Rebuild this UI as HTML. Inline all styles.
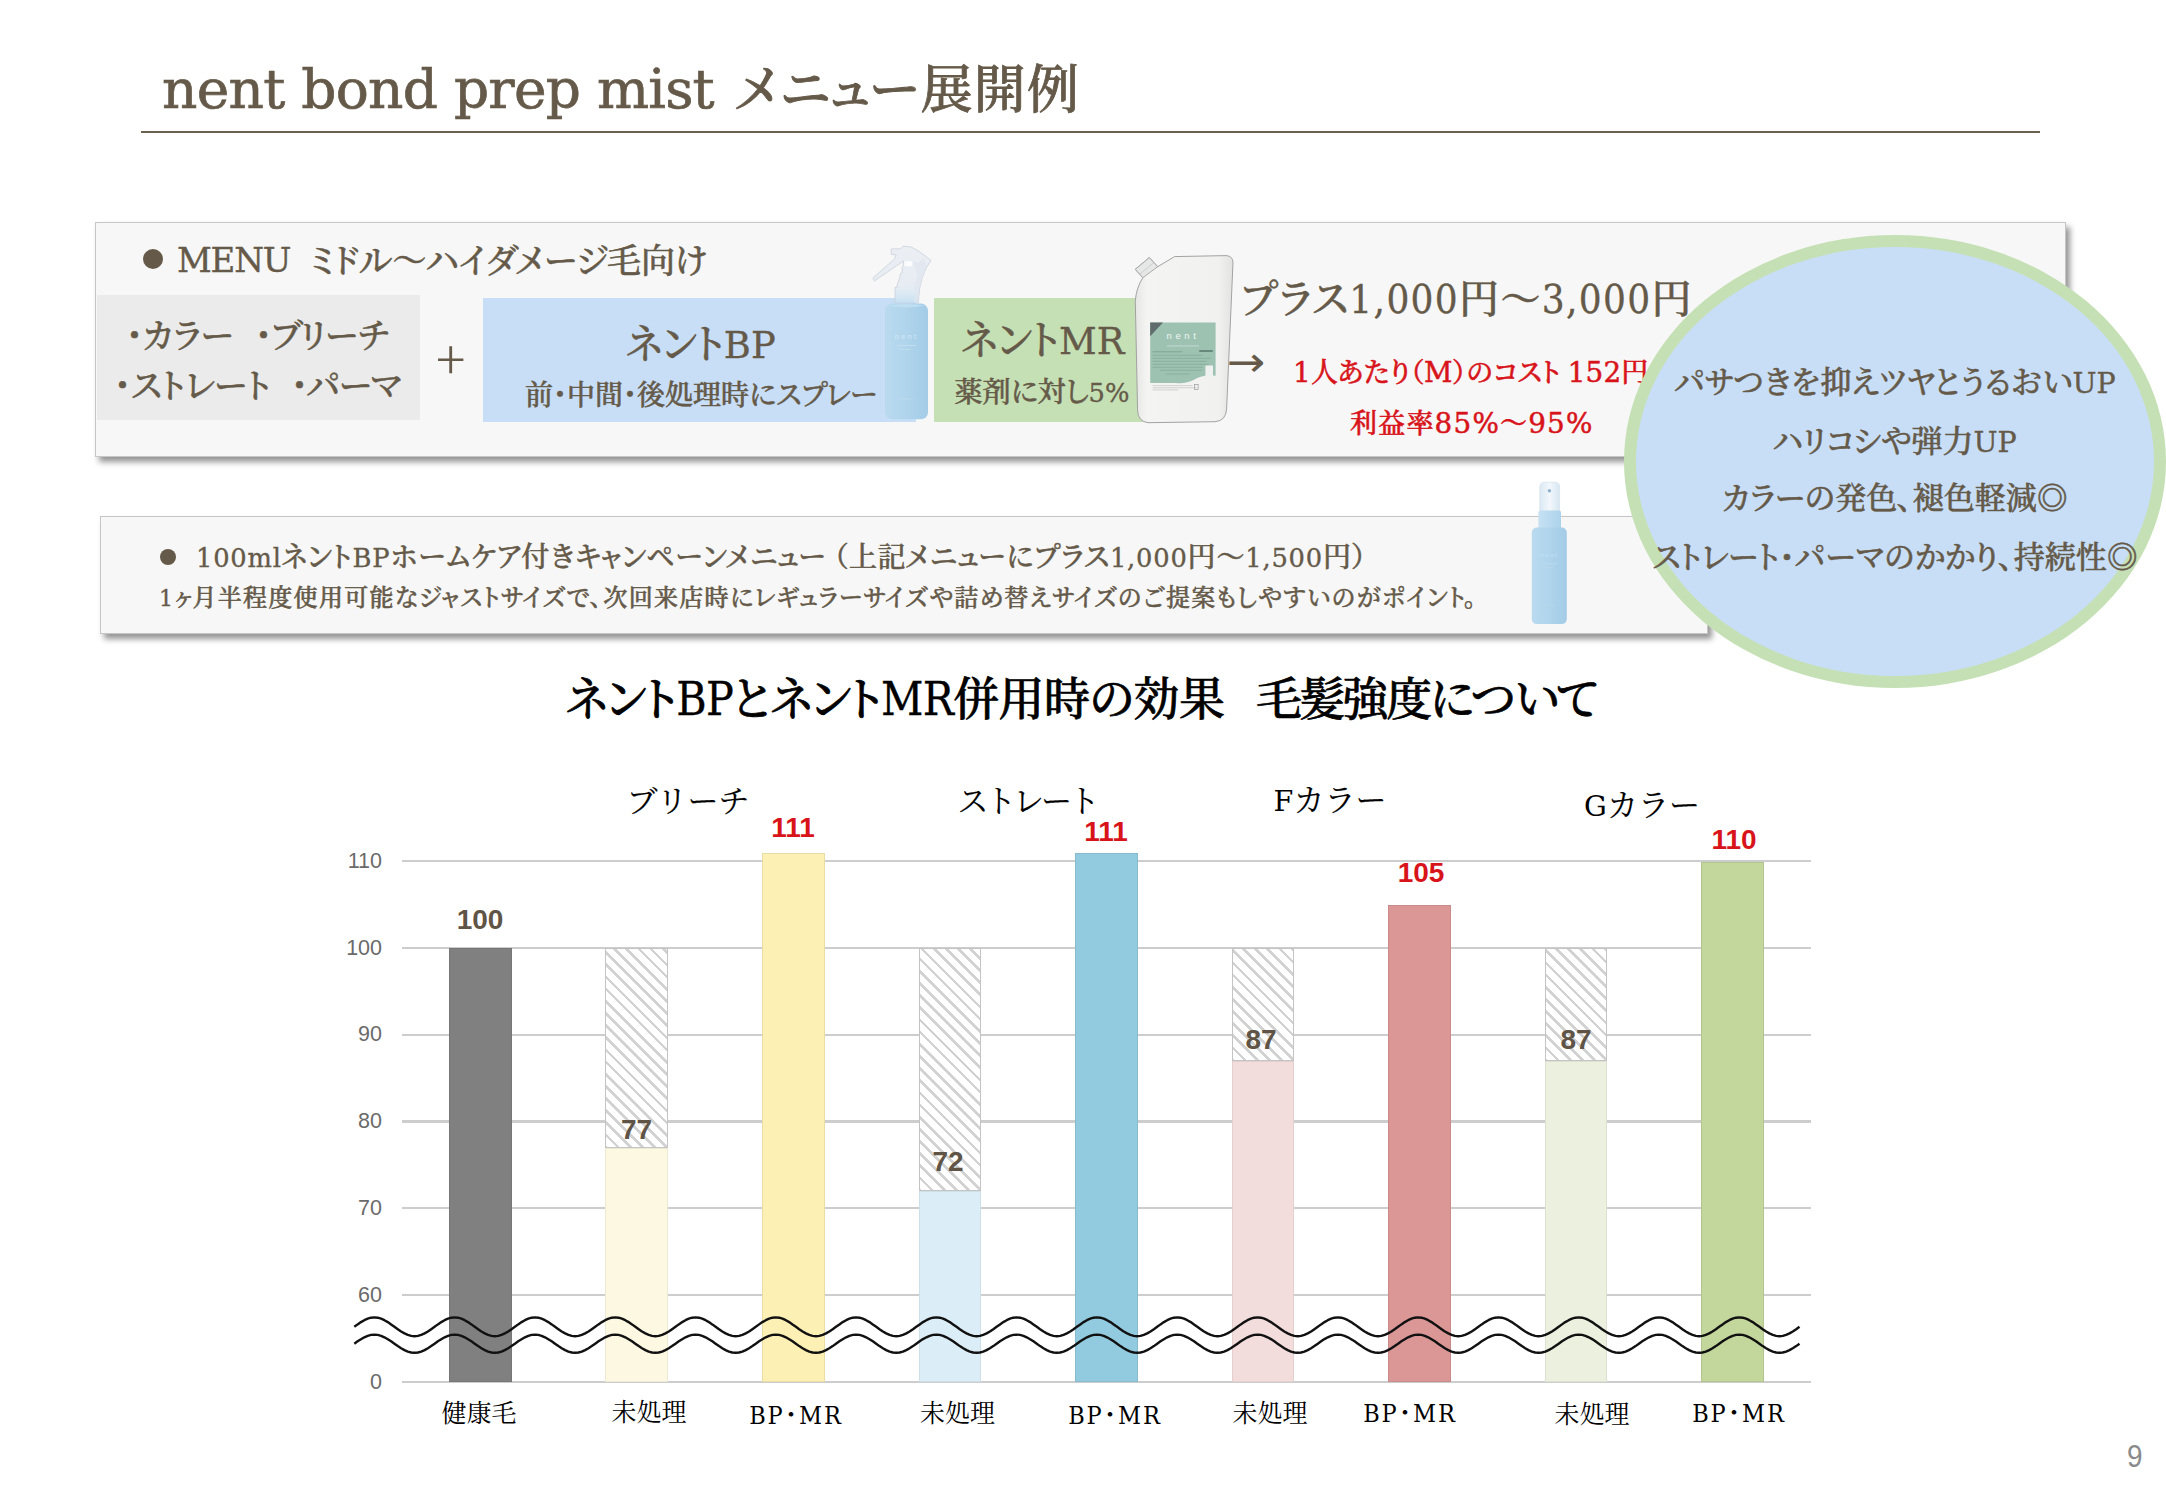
<!DOCTYPE html>
<html lang="ja">
<head>
<meta charset="utf-8">
<title>nent bond prep mist メニュー展開例</title>
<style>
html,body{margin:0;padding:0;background:#fff;}
body{width:2166px;height:1500px;position:relative;overflow:hidden;
  font-family:"DejaVu Serif","Liberation Serif","Noto Serif CJK JP","Noto Serif CJK SC",serif;color:#655a49;}
.t{position:absolute;white-space:nowrap;line-height:1;margin:0;font-weight:500;-webkit-text-stroke:.55px currentColor;font-feature-settings:"palt";}
.jp{font-family:"Noto Serif CJK JP","Noto Serif CJK SC","Liberation Serif",serif;}
.box{position:absolute;}
.card{position:absolute;background:#f7f7f7;border:1px solid #c6c6c6;box-sizing:border-box;box-shadow:4px 5px 6px rgba(0,0,0,.42);}
.red{color:#d8141a;}
.blk{color:#000;}
.sans{font-family:"Liberation Sans","Noto Sans CJK JP",sans-serif;font-feature-settings:normal;-webkit-text-stroke:0;}
.red .l{font-weight:400;font-size:1.03em;-webkit-text-stroke:.5px currentColor;}
.lc{font-family:"DejaVu Serif Condensed","DejaVu Serif",serif;font-stretch:condensed;font-size:1em;font-feature-settings:normal;font-weight:400;-webkit-text-stroke:.3px currentColor;}
.c{transform:translateX(-50%);}
.l{font-family:"DejaVu Serif","Liberation Serif",serif;font-size:.92em;font-feature-settings:normal;font-weight:400;-webkit-text-stroke:.35px currentColor;}

.gl{left:402px;width:1409px;height:2.4px;background:#cdcdcd;}
.yl{left:300px;width:82px;text-align:right;font-size:21.5px;color:#6a6a6a;font-weight:400;}
.hatch{background:repeating-linear-gradient(45deg,#d2d2d2 0,#d2d2d2 2.6px,#fff 2.6px,#fff 8.6px);box-shadow:inset 0 0 0 1px #c4c4c4;}
.vl{font-size:28px;font-weight:700;}
.hd{font-size:31px;font-weight:400;font-feature-settings:normal;-webkit-text-stroke:.15px #000;}
.hd .l{-webkit-text-stroke:0;}
.xl{font-size:25px;font-weight:400;-webkit-text-stroke:0;}
.xl .l{font-family:"DejaVu Serif Condensed","DejaVu Serif",serif;font-stretch:condensed;font-size:1em;-webkit-text-stroke:0;}
</style>
</head>
<body>

<!-- ===== Title ===== -->
<div class="t" id="ttl1" style="left:162px;top:61.5px;font-size:55px;letter-spacing:-.75px;font-weight:400;-webkit-text-stroke:.7px #655a49;">nent bond prep mist</div>
<div class="t jp" id="ttl2" style="left:736.5px;top:60px;font-size:52px;font-weight:500;letter-spacing:1.25px;-webkit-text-stroke:.8px #655a49;">メニュー展開例</div>
<div class="box" style="left:141px;top:131px;width:1899px;height:2px;background:#6b5f4e;"></div>

<!-- ===== Card 1 ===== -->
<div class="card" style="left:95px;top:222px;width:1971px;height:235px;"></div>
<div class="box" style="left:143px;top:249px;width:20px;height:20px;border-radius:50%;background:#655a49;"></div>
<div class="t" id="menu" style="left:177px;top:243px;font-size:34px;letter-spacing:-1.2px;font-weight:400;-webkit-text-stroke:.4px #655a49;">MENU</div>
<div class="t jp" id="menu2" style="left:310px;top:242px;font-size:34px;">ミドル～ハイダメージ毛向け</div>

<div class="box" style="left:97px;top:295px;width:323px;height:125px;background:#ebebeb;"></div>
<div class="t jp" id="g1" style="left:126px;top:317px;font-size:34px;">・カラー</div>
<div class="t jp" id="g1b" style="left:255px;top:317px;font-size:34px;letter-spacing:-.9px;">・ブリーチ</div>
<div class="t jp" id="g2" style="left:114px;top:367px;font-size:34px;">・ストレート</div>
<div class="t jp" id="g2b" style="left:291px;top:367px;font-size:34px;letter-spacing:-1.4px;">・パーマ</div>

<div class="t" id="plusS" style="left:436px;top:329px;font-size:55px;font-weight:300;font-family:'Noto Sans CJK JP','Noto Sans CJK SC',sans-serif;-webkit-text-stroke:0;font-feature-settings:normal;">+</div>

<div class="box" style="left:483px;top:298px;width:433px;height:124px;background:#c8def7;"></div>
<div class="t jp c" id="bp1" style="left:701px;top:321px;font-size:40px;">ネント<span class="l">BP</span></div>
<div class="t jp c" id="bp2" style="left:701px;top:379px;font-size:28px;">前・中間・後処理時にスプレー</div>

<div class="box" style="left:934px;top:298px;width:217px;height:124px;background:#c5e0b4;"></div>
<div class="t jp c" id="mr1" style="left:1043px;top:317px;font-size:40px;">ネント<span class="l">MR</span></div>
<div class="t jp c" id="mr2" style="left:1042px;top:376px;font-size:28px;">薬剤に対し<span class="l">5%</span></div>

<div class="t jp" id="plus" style="left:1240.5px;top:276px;font-size:40px;letter-spacing:1.35px;">プラス<span class="lc">1,000</span>円～<span class="lc">3,000</span>円</div>
<div class="t" id="arrow" style="z-index:3;left:1227.3px;top:341.5px;transform:scaleX(1.12);transform-origin:0 0;font-size:41px;font-weight:400;font-family:'DejaVu Sans',sans-serif;-webkit-text-stroke:0;font-feature-settings:normal;">→</div>
<div class="t jp red" id="r1" style="left:1293px;top:357px;font-size:27px;font-weight:500;letter-spacing:.2px;"><span class="l">1</span>人あたり（<span class="l">M</span>）のコスト <span class="l">152</span>円</div>
<div class="t jp red" id="r2" style="left:1350px;top:407.5px;font-size:27px;font-weight:500;letter-spacing:1.2px;">利益率<span class="l">85%</span>～<span class="l">95%</span></div>

<!-- ===== Card 2 ===== -->
<div class="card" style="left:100px;top:516px;width:1608px;height:118px;"></div>
<div class="box" style="left:160px;top:549px;width:16px;height:16px;border-radius:50%;background:#655a49;"></div>
<div class="t jp" id="c21" style="left:196px;top:541px;font-size:28px;letter-spacing:.8px;"><span class="l">100ml</span>ネント<span class="l">BP</span>ホームケア付きキャンペーンメニュー （上記メニューにプラス<span class="l">1,000</span>円～<span class="l">1,500</span>円）</div>
<div class="t jp" id="c22" style="left:159px;top:584px;font-size:24px;letter-spacing:1.3px;"><span class="l">1</span>ヶ月半程度使用可能なジャストサイズで、次回来店時にレギュラーサイズや詰め替えサイズのご提案もしやすいのがポイント。</div>

<!--PROD-START-->
<svg class="box" id="products" style="left:0;top:0;" width="2166" height="1500" viewBox="0 0 2166 1500">
<defs>
<linearGradient id="gb" x1="0" x2="1" y1="0" y2="0"><stop offset="0" stop-color="#badaef"/><stop offset=".45" stop-color="#b0d5ec"/><stop offset="1" stop-color="#a4cce7"/></linearGradient>
<linearGradient id="gn" x1="0" x2="1" y1="0" y2="0"><stop offset="0" stop-color="#c6e1f3"/><stop offset="1" stop-color="#add3ec"/></linearGradient>
<linearGradient id="gp" x1="0" x2="1" y1="0" y2="0"><stop offset="0" stop-color="#e6e6e5"/><stop offset=".12" stop-color="#f4f4f3"/><stop offset=".85" stop-color="#f1f1f0"/><stop offset="1" stop-color="#e2e2e1"/></linearGradient>
<linearGradient id="gc" x1="0" x2="1" y1="0" y2="0"><stop offset="0" stop-color="#dbe9f4"/><stop offset=".5" stop-color="#f2f7fb"/><stop offset="1" stop-color="#d6e6f2"/></linearGradient>
<linearGradient id="gt" x1="0" x2="0" y1="0" y2="1"><stop offset="0" stop-color="#ebeff4"/><stop offset=".7" stop-color="#e7ecf3"/><stop offset=".86" stop-color="#d9e8f3"/><stop offset="1" stop-color="#c6e1f3"/></linearGradient>
</defs>
<!-- spray bottle -->
<g>
<path d="M891.2,248.9 L900.5,248.9 L902.9,246.2 L911.1,247 L917.8,250.6 L925,255.8 L931,260.4 L926.9,266.9 L922.6,276.5 L919.7,288 L918.3,303 L895,303 L895,287.3 L897.2,287.3 L897.2,284.6 L899.6,277.9 L900.5,273.6 L902.2,273.1 L902.2,266.9 L903.4,265 L903.4,261.1 L874.6,280.8 L872.9,278.4 L873.2,277.7 L894.3,259.2 L896.2,254.9 L891.2,254.4 Z" fill="url(#gt)" stroke="#c9d1db" stroke-width=".8" stroke-linejoin="round"/>
<path d="M904.4,261.2 H912.3 V266.2 H904.4 Z" fill="#fbfcfd"/>
<path d="M912.3,261.5 L918,262.5 L924.5,258 L926.9,266.9 L922.6,276.5 L919.7,288 L918.3,303 L914,303 L915,286 L917.5,274 Z" fill="#dfe6ee" opacity=".7"/>
<rect x="884.9" y="303.6" width="43.1" height="115.7" rx="7" ry="7" fill="url(#gb)"/>
<path d="M888,305.6 Q906.5,302.6 925,305.6 Q906.5,309.4 888,305.6 Z" fill="#c4e1f3" opacity=".8"/>
<text x="906.5" y="338.5" text-anchor="middle" font-family="'Liberation Sans',sans-serif" font-size="7.5" letter-spacing="2.2" fill="#d3e8f6">nent</text>
<rect x="897" y="345" width="19" height=".9" fill="#c3def0"/>
<rect x="899" y="349" width="12" height=".8" fill="#c3def0"/>
<rect x="900" y="398.5" width="13" height=".9" fill="#bcd9ee"/>
</g>
<!-- refill pouch -->
<g>
<path d="M1174.6,256.6 L1226.6,255.6 Q1232.6,256.4 1233,262.1 L1226.6,409 Q1226,420.8 1215,421.7 L1148,422.7 Q1138.2,421.5 1137.6,411 L1135.3,301.1 Q1136.2,288 1142.8,277.7 L1135.3,269.3 L1149.3,257.6 L1157.7,266.7 Z" fill="url(#gp)" stroke="#a3a3a3" stroke-width="1" stroke-linejoin="round"/>
<path d="M1135.3,269.3 L1149.3,257.6 L1157.7,266.7 L1142.8,277.7 Z" fill="#e6e8e8" stroke="#a3a3a3" stroke-width=".9" stroke-linejoin="round"/>
<path d="M1139.6,274.2 L1153.9,262.6" stroke="#c4c4c4" stroke-width=".8" fill="none"/>
<path d="M1150.2,322.6 H1215.6 V375.8 Q1204,373.8 1194,379.8 Q1186,384 1176,383 H1150.2 Z" fill="#9ec2b2"/>
<path d="M1150.2,322.6 H1163 L1150.2,336.3 Z" fill="#5f6c6b"/>
<text x="1183" y="339" text-anchor="middle" font-family="'Liberation Sans',sans-serif" font-size="9.5" letter-spacing="3.6" fill="#eef6f2">nent</text>
<rect x="1167" y="345.5" width="32" height=".9" fill="#c4dcd1"/>
<rect x="1152.5" y="351.3" width="30" height="1" fill="#7ea595"/>
<rect x="1199" y="350" width="14" height="2" rx="1" fill="#66897b"/>
<g fill="#86ad9d"><rect x="1152.5" y="354.8" width="50" height=".9"/><rect x="1152.5" y="357.8" width="58" height=".9"/><rect x="1152.5" y="360.8" width="54" height=".9"/><rect x="1152.5" y="363.8" width="56" height=".9"/><rect x="1152.5" y="366.8" width="50" height=".9"/><rect x="1160" y="369.8" width="42" height=".9"/><rect x="1166" y="373.5" width="24" height=".9"/></g>
<rect x="1205.4" y="365.5" width="7.6" height="12.3" fill="#eef1ef"/>
<g fill="#c9c9c8"><rect x="1152.5" y="385.3" width="40" height=".8"/><rect x="1152.5" y="387.4" width="44" height=".8"/><rect x="1152.5" y="389.5" width="26" height=".8"/></g>
<rect x="1194.5" y="384.6" width="3.6" height="5" fill="none" stroke="#9a9a9a" stroke-width=".7"/>
</g>
<!-- 100ml bottle -->
<g>
<path d="M1539.8,511.5 V487 Q1539.8,482.2 1544.6,482.2 H1554.8 Q1559.6,482.2 1559.6,487 V511.5 Z" fill="url(#gc)" stroke="#cfdde9" stroke-width=".6"/>
<circle cx="1549.4" cy="490.8" r="1.7" fill="#8fb2cf"/>
<rect x="1538.4" y="510.6" width="22.6" height="19" rx="2" fill="url(#gn)"/>
<rect x="1531.8" y="527.5" width="35" height="96.6" rx="5" ry="5" fill="url(#gb)"/>
<text x="1549.4" y="557" text-anchor="middle" font-family="'Liberation Sans',sans-serif" font-size="6.2" letter-spacing="1.6" fill="#c6e0f2">nent</text>
<rect x="1542" y="563.5" width="15" height=".8" fill="#bcd9ee"/>
<rect x="1544" y="567" width="9" height=".7" fill="#bcd9ee"/>
<rect x="1545" y="605" width="9" height=".8" fill="#b8d6ec"/>
</g>
</svg>
<!--PROD-END-->
<!-- ===== Ellipse ===== -->
<div class="box" style="left:1624px;top:235px;width:542px;height:453px;border-radius:50%;background:#c8def7;border:12px solid #c5e0b4;box-sizing:border-box;"></div>
<div class="t jp c" id="e1" style="left:1895px;top:363.5px;font-size:31px;">パサつきを抑えツヤとうるおい<span class="l">UP</span></div>
<div class="t jp c" id="e2" style="left:1895px;top:422.5px;font-size:31px;">ハリコシや弾力<span class="l">UP</span></div>
<div class="t jp c" id="e3" style="left:1895px;top:479.5px;font-size:31px;">カラーの発色、褪色軽減◎</div>
<div class="t jp c" id="e4" style="left:1895px;top:538.5px;font-size:31px;">ストレート・パーマのかかり、持続性◎</div>

<!-- ===== Chart title ===== -->
<div class="t jp blk" id="ct" style="left:566px;top:672px;font-size:46px;font-weight:500;letter-spacing:-.67px;-webkit-text-stroke:.7px #000;">ネント<span class="lc">BP</span>とネント<span class="lc">MR</span>併用時の効果</div>
<div class="t jp blk" id="ct2" style="left:1256px;top:672px;font-size:46px;font-weight:500;letter-spacing:-2.7px;-webkit-text-stroke:.7px #000;">毛髪強度について</div>

<!-- ===== Chart ===== -->
<!--CHART-START-->
<div class="box gl" style="top:859.8px;"></div>
<div class="t sans yl" style="top:850.5px;">110</div>
<div class="box gl" style="top:947.1px;"></div>
<div class="t sans yl" style="top:937.8px;">100</div>
<div class="box gl" style="top:1033.6px;"></div>
<div class="t sans yl" style="top:1024.3px;">90</div>
<div class="box gl" style="top:1120.4px;"></div>
<div class="t sans yl" style="top:1111.1px;">80</div>
<div class="box gl" style="top:1207.1px;"></div>
<div class="t sans yl" style="top:1197.8px;">70</div>
<div class="box gl" style="top:1293.8px;"></div>
<div class="t sans yl" style="top:1284.5px;">60</div>
<div class="box gl" style="top:1380.8px;"></div>
<div class="t sans yl" style="top:1371.5px;">0</div>
<div class="box" style="left:448.8px;top:948.3px;width:62.8px;height:433.7px;background:#808080;box-shadow:inset 0 0 0 1px rgba(0,0,0,.08);"></div>
<div class="box hatch" style="left:605.4px;top:948.3px;width:62.8px;height:199.4px;"></div>
<div class="box" style="left:605.4px;top:1147.7px;width:62.8px;height:234.3px;background:#fdf8e2;box-shadow:inset 0 0 0 1px rgba(0,0,0,.06);"></div>
<div class="box" style="left:761.9px;top:852.9px;width:62.8px;height:529.1px;background:#fdf0b4;box-shadow:inset 0 0 0 1px rgba(0,0,0,.08);"></div>
<div class="box hatch" style="left:918.5px;top:948.3px;width:62.8px;height:242.8px;"></div>
<div class="box" style="left:918.5px;top:1191.1px;width:62.8px;height:190.9px;background:#dbedf6;box-shadow:inset 0 0 0 1px rgba(0,0,0,.06);"></div>
<div class="box" style="left:1075.0px;top:852.9px;width:62.8px;height:529.1px;background:#92cbdf;box-shadow:inset 0 0 0 1px rgba(0,0,0,.08);"></div>
<div class="box hatch" style="left:1231.5px;top:948.3px;width:62.8px;height:112.7px;"></div>
<div class="box" style="left:1231.5px;top:1061.0px;width:62.8px;height:321.0px;background:#f3dcdc;box-shadow:inset 0 0 0 1px rgba(0,0,0,.06);"></div>
<div class="box" style="left:1388.1px;top:904.9px;width:62.8px;height:477.1px;background:#db9696;box-shadow:inset 0 0 0 1px rgba(0,0,0,.08);"></div>
<div class="box hatch" style="left:1544.7px;top:948.3px;width:62.8px;height:112.7px;"></div>
<div class="box" style="left:1544.7px;top:1061.0px;width:62.8px;height:321.0px;background:#ebf0df;box-shadow:inset 0 0 0 1px rgba(0,0,0,.06);"></div>
<div class="box" style="left:1701.2px;top:861.6px;width:62.8px;height:520.4px;background:#c3d69b;box-shadow:inset 0 0 0 1px rgba(0,0,0,.08);"></div>
<div class="t sans c vl" id="v0" style="left:480px;top:906px;color:#5f5445;">100</div>
<div class="t sans c vl" id="v1" style="left:636.5px;top:1116px;color:#5f5445;">77</div>
<div class="t sans c vl" id="v2" style="left:793px;top:814px;color:#d8141a;">111</div>
<div class="t sans c vl" id="v3" style="left:948px;top:1148px;color:#5f5445;">72</div>
<div class="t sans c vl" id="v4" style="left:1106px;top:818px;color:#d8141a;">111</div>
<div class="t sans c vl" id="v5" style="left:1261px;top:1026px;color:#5f5445;">87</div>
<div class="t sans c vl" id="v6" style="left:1421px;top:859px;color:#d8141a;">105</div>
<div class="t sans c vl" id="v7" style="left:1576px;top:1026px;color:#5f5445;">87</div>
<div class="t sans c vl" id="v8" style="left:1734px;top:826px;color:#d8141a;">110</div>
<div class="t jp c blk hd" id="h0" style="left:688px;top:782.5px;letter-spacing:0px;">ブリーチ</div>
<div class="t jp c blk hd" id="h1" style="left:1027px;top:782.5px;letter-spacing:-3.2px;">ストレート</div>
<div class="t jp c blk hd" id="h2" style="left:1330px;top:782px;letter-spacing:0px;"><span class="l">F</span>カラー</div>
<div class="t jp c blk hd" id="h3" style="left:1642px;top:787px;letter-spacing:0px;"><span class="l">G</span>カラー</div>
<div class="t jp c blk xl" id="x0" style="left:479px;top:1399px;">健康毛</div>
<div class="t jp c blk xl" id="x1" style="left:649px;top:1398px;">未処理</div>
<div class="t jp c blk xl" id="x2" style="left:796px;top:1401px; letter-spacing:1.9px;"><span class="l">BP</span>・<span class="l">MR</span></div>
<div class="t jp c blk xl" id="x3" style="left:957.5px;top:1399px;">未処理</div>
<div class="t jp c blk xl" id="x4" style="left:1115px;top:1401px; letter-spacing:1.9px;"><span class="l">BP</span>・<span class="l">MR</span></div>
<div class="t jp c blk xl" id="x5" style="left:1270px;top:1399px;">未処理</div>
<div class="t jp c blk xl" id="x6" style="left:1410px;top:1399px; letter-spacing:1.9px;"><span class="l">BP</span>・<span class="l">MR</span></div>
<div class="t jp c blk xl" id="x7" style="left:1592px;top:1400px;">未処理</div>
<div class="t jp c blk xl" id="x8" style="left:1739px;top:1399px; letter-spacing:1.9px;"><span class="l">BP</span>・<span class="l">MR</span></div>
<svg class="box" style="left:0;top:0;" width="2166" height="1500" viewBox="0 0 2166 1500">
<path d="M354.3,1326.8 L357.6,1324.4 L361.0,1322.1 L364.3,1320.2 L367.7,1318.7 L371.0,1317.7 L374.4,1317.4 L377.7,1317.7 L381.1,1318.7 L384.4,1320.2 L387.8,1322.1 L391.1,1324.4 L394.4,1326.8 L397.8,1329.2 L401.1,1331.5 L404.5,1333.4 L407.8,1334.9 L411.2,1335.9 L414.5,1336.2 L417.9,1335.9 L421.2,1334.9 L424.6,1333.4 L427.9,1331.5 L431.2,1329.2 L434.6,1326.8 L437.9,1324.4 L441.3,1322.1 L444.6,1320.2 L448.0,1318.7 L451.3,1317.7 L454.7,1317.4 L458.0,1317.7 L461.4,1318.7 L464.7,1320.2 L468.0,1322.1 L471.4,1324.4 L474.7,1326.8 L478.1,1329.2 L481.4,1331.5 L484.8,1333.4 L488.1,1334.9 L491.5,1335.9 L494.8,1336.2 L498.2,1335.9 L501.5,1334.9 L504.8,1333.4 L508.2,1331.5 L511.5,1329.2 L514.9,1326.8 L518.2,1324.4 L521.6,1322.1 L524.9,1320.2 L528.3,1318.7 L531.6,1317.7 L535.0,1317.4 L538.3,1317.7 L541.6,1318.7 L545.0,1320.2 L548.3,1322.1 L551.7,1324.4 L555.0,1326.8 L558.4,1329.2 L561.7,1331.5 L565.1,1333.4 L568.4,1334.9 L571.8,1335.9 L575.1,1336.2 L578.4,1335.9 L581.8,1334.9 L585.1,1333.4 L588.5,1331.5 L591.8,1329.2 L595.2,1326.8 L598.5,1324.4 L601.9,1322.1 L605.2,1320.2 L608.6,1318.7 L611.9,1317.7 L615.2,1317.4 L618.6,1317.7 L621.9,1318.7 L625.3,1320.2 L628.6,1322.1 L632.0,1324.4 L635.3,1326.8 L638.7,1329.2 L642.0,1331.5 L645.4,1333.4 L648.7,1334.9 L652.0,1335.9 L655.4,1336.2 L658.7,1335.9 L662.1,1334.9 L665.4,1333.4 L668.8,1331.5 L672.1,1329.2 L675.5,1326.8 L678.8,1324.4 L682.2,1322.1 L685.5,1320.2 L688.8,1318.7 L692.2,1317.7 L695.5,1317.4 L698.9,1317.7 L702.2,1318.7 L705.6,1320.2 L708.9,1322.1 L712.3,1324.4 L715.6,1326.8 L719.0,1329.2 L722.3,1331.5 L725.6,1333.4 L729.0,1334.9 L732.3,1335.9 L735.7,1336.2 L739.0,1335.9 L742.4,1334.9 L745.7,1333.4 L749.1,1331.5 L752.4,1329.2 L755.8,1326.8 L759.1,1324.4 L762.4,1322.1 L765.8,1320.2 L769.1,1318.7 L772.5,1317.7 L775.8,1317.4 L779.2,1317.7 L782.5,1318.7 L785.9,1320.2 L789.2,1322.1 L792.5,1324.4 L795.9,1326.8 L799.2,1329.2 L802.6,1331.5 L805.9,1333.4 L809.3,1334.9 L812.6,1335.9 L816.0,1336.2 L819.3,1335.9 L822.7,1334.9 L826.0,1333.4 L829.3,1331.5 L832.7,1329.2 L836.0,1326.8 L839.4,1324.4 L842.7,1322.1 L846.1,1320.2 L849.4,1318.7 L852.8,1317.7 L856.1,1317.4 L859.5,1317.7 L862.8,1318.7 L866.1,1320.2 L869.5,1322.1 L872.8,1324.4 L876.2,1326.8 L879.5,1329.2 L882.9,1331.5 L886.2,1333.4 L889.6,1334.9 L892.9,1335.9 L896.3,1336.2 L899.6,1335.9 L902.9,1334.9 L906.3,1333.4 L909.6,1331.5 L913.0,1329.2 L916.3,1326.8 L919.7,1324.4 L923.0,1322.1 L926.4,1320.2 L929.7,1318.7 L933.1,1317.7 L936.4,1317.4 L939.7,1317.7 L943.1,1318.7 L946.4,1320.2 L949.8,1322.1 L953.1,1324.4 L956.5,1326.8 L959.8,1329.2 L963.2,1331.5 L966.5,1333.4 L969.9,1334.9 L973.2,1335.9 L976.5,1336.2 L979.9,1335.9 L983.2,1334.9 L986.6,1333.4 L989.9,1331.5 L993.3,1329.2 L996.6,1326.8 L1000.0,1324.4 L1003.3,1322.1 L1006.7,1320.2 L1010.0,1318.7 L1013.3,1317.7 L1016.7,1317.4 L1020.0,1317.7 L1023.4,1318.7 L1026.7,1320.2 L1030.1,1322.1 L1033.4,1324.4 L1036.8,1326.8 L1040.1,1329.2 L1043.5,1331.5 L1046.8,1333.4 L1050.1,1334.9 L1053.5,1335.9 L1056.8,1336.2 L1060.2,1335.9 L1063.5,1334.9 L1066.9,1333.4 L1070.2,1331.5 L1073.6,1329.2 L1076.9,1326.8 L1080.3,1324.4 L1083.6,1322.1 L1086.9,1320.2 L1090.3,1318.7 L1093.6,1317.7 L1097.0,1317.4 L1100.3,1317.7 L1103.7,1318.7 L1107.0,1320.2 L1110.4,1322.1 L1113.7,1324.4 L1117.1,1326.8 L1120.4,1329.2 L1123.7,1331.5 L1127.1,1333.4 L1130.4,1334.9 L1133.8,1335.9 L1137.1,1336.2 L1140.5,1335.9 L1143.8,1334.9 L1147.2,1333.4 L1150.5,1331.5 L1153.9,1329.2 L1157.2,1326.8 L1160.5,1324.4 L1163.9,1322.1 L1167.2,1320.2 L1170.6,1318.7 L1173.9,1317.7 L1177.3,1317.4 L1180.6,1317.7 L1184.0,1318.7 L1187.3,1320.2 L1190.7,1322.1 L1194.0,1324.4 L1197.3,1326.8 L1200.7,1329.2 L1204.0,1331.5 L1207.4,1333.4 L1210.7,1334.9 L1214.1,1335.9 L1217.4,1336.2 L1220.8,1335.9 L1224.1,1334.9 L1227.5,1333.4 L1230.8,1331.5 L1234.1,1329.2 L1237.5,1326.8 L1240.8,1324.4 L1244.2,1322.1 L1247.5,1320.2 L1250.9,1318.7 L1254.2,1317.7 L1257.6,1317.4 L1260.9,1317.7 L1264.3,1318.7 L1267.6,1320.2 L1270.9,1322.1 L1274.3,1324.4 L1277.6,1326.8 L1281.0,1329.2 L1284.3,1331.5 L1287.7,1333.4 L1291.0,1334.9 L1294.4,1335.9 L1297.7,1336.2 L1301.1,1335.9 L1304.4,1334.9 L1307.7,1333.4 L1311.1,1331.5 L1314.4,1329.2 L1317.8,1326.8 L1321.1,1324.4 L1324.5,1322.1 L1327.8,1320.2 L1331.2,1318.7 L1334.5,1317.7 L1337.9,1317.4 L1341.2,1317.7 L1344.5,1318.7 L1347.9,1320.2 L1351.2,1322.1 L1354.6,1324.4 L1357.9,1326.8 L1361.3,1329.2 L1364.6,1331.5 L1368.0,1333.4 L1371.3,1334.9 L1374.7,1335.9 L1378.0,1336.2 L1381.3,1335.9 L1384.7,1334.9 L1388.0,1333.4 L1391.4,1331.5 L1394.7,1329.2 L1398.1,1326.8 L1401.4,1324.4 L1404.8,1322.1 L1408.1,1320.2 L1411.5,1318.7 L1414.8,1317.7 L1418.1,1317.4 L1421.5,1317.7 L1424.8,1318.7 L1428.2,1320.2 L1431.5,1322.1 L1434.9,1324.4 L1438.2,1326.8 L1441.6,1329.2 L1444.9,1331.5 L1448.3,1333.4 L1451.6,1334.9 L1454.9,1335.9 L1458.3,1336.2 L1461.6,1335.9 L1465.0,1334.9 L1468.3,1333.4 L1471.7,1331.5 L1475.0,1329.2 L1478.4,1326.8 L1481.7,1324.4 L1485.1,1322.1 L1488.4,1320.2 L1491.7,1318.7 L1495.1,1317.7 L1498.4,1317.4 L1501.8,1317.7 L1505.1,1318.7 L1508.5,1320.2 L1511.8,1322.1 L1515.2,1324.4 L1518.5,1326.8 L1521.9,1329.2 L1525.2,1331.5 L1528.5,1333.4 L1531.9,1334.9 L1535.2,1335.9 L1538.6,1336.2 L1541.9,1335.9 L1545.3,1334.9 L1548.6,1333.4 L1552.0,1331.5 L1555.3,1329.2 L1558.7,1326.8 L1562.0,1324.4 L1565.3,1322.1 L1568.7,1320.2 L1572.0,1318.7 L1575.4,1317.7 L1578.7,1317.4 L1582.1,1317.7 L1585.4,1318.7 L1588.8,1320.2 L1592.1,1322.1 L1595.4,1324.4 L1598.8,1326.8 L1602.1,1329.2 L1605.5,1331.5 L1608.8,1333.4 L1612.2,1334.9 L1615.5,1335.9 L1618.9,1336.2 L1622.2,1335.9 L1625.6,1334.9 L1628.9,1333.4 L1632.2,1331.5 L1635.6,1329.2 L1638.9,1326.8 L1642.3,1324.4 L1645.6,1322.1 L1649.0,1320.2 L1652.3,1318.7 L1655.7,1317.7 L1659.0,1317.4 L1662.4,1317.7 L1665.7,1318.7 L1669.0,1320.2 L1672.4,1322.1 L1675.7,1324.4 L1679.1,1326.8 L1682.4,1329.2 L1685.8,1331.5 L1689.1,1333.4 L1692.5,1334.9 L1695.8,1335.9 L1699.2,1336.2 L1702.5,1335.9 L1705.8,1334.9 L1709.2,1333.4 L1712.5,1331.5 L1715.9,1329.2 L1719.2,1326.8 L1722.6,1324.4 L1725.9,1322.1 L1729.3,1320.2 L1732.6,1318.7 L1736.0,1317.7 L1739.3,1317.4 L1742.6,1317.7 L1746.0,1318.7 L1749.3,1320.2 L1752.7,1322.1 L1756.0,1324.4 L1759.4,1326.8 L1762.7,1329.2 L1766.1,1331.5 L1769.4,1333.4 L1772.8,1334.9 L1776.1,1335.9 L1779.4,1336.2 L1782.8,1335.9 L1786.1,1334.9 L1789.5,1333.4 L1792.8,1331.5 L1796.2,1329.2 L1799.5,1326.8" fill="none" stroke="#111" stroke-width="2.4" stroke-linejoin="round"/>
<path d="M354.3,1343.7 L357.6,1341.3 L361.0,1339.2 L364.3,1337.3 L367.7,1335.8 L371.0,1334.9 L374.4,1334.6 L377.7,1334.9 L381.1,1335.8 L384.4,1337.3 L387.8,1339.2 L391.1,1341.3 L394.4,1343.7 L397.8,1346.1 L401.1,1348.2 L404.5,1350.1 L407.8,1351.6 L411.2,1352.5 L414.5,1352.8 L417.9,1352.5 L421.2,1351.6 L424.6,1350.1 L427.9,1348.2 L431.2,1346.1 L434.6,1343.7 L437.9,1341.3 L441.3,1339.2 L444.6,1337.3 L448.0,1335.8 L451.3,1334.9 L454.7,1334.6 L458.0,1334.9 L461.4,1335.8 L464.7,1337.3 L468.0,1339.2 L471.4,1341.3 L474.7,1343.7 L478.1,1346.1 L481.4,1348.2 L484.8,1350.1 L488.1,1351.6 L491.5,1352.5 L494.8,1352.8 L498.2,1352.5 L501.5,1351.6 L504.8,1350.1 L508.2,1348.2 L511.5,1346.1 L514.9,1343.7 L518.2,1341.3 L521.6,1339.2 L524.9,1337.3 L528.3,1335.8 L531.6,1334.9 L535.0,1334.6 L538.3,1334.9 L541.6,1335.8 L545.0,1337.3 L548.3,1339.2 L551.7,1341.3 L555.0,1343.7 L558.4,1346.1 L561.7,1348.2 L565.1,1350.1 L568.4,1351.6 L571.8,1352.5 L575.1,1352.8 L578.4,1352.5 L581.8,1351.6 L585.1,1350.1 L588.5,1348.2 L591.8,1346.1 L595.2,1343.7 L598.5,1341.3 L601.9,1339.2 L605.2,1337.3 L608.6,1335.8 L611.9,1334.9 L615.2,1334.6 L618.6,1334.9 L621.9,1335.8 L625.3,1337.3 L628.6,1339.2 L632.0,1341.3 L635.3,1343.7 L638.7,1346.1 L642.0,1348.2 L645.4,1350.1 L648.7,1351.6 L652.0,1352.5 L655.4,1352.8 L658.7,1352.5 L662.1,1351.6 L665.4,1350.1 L668.8,1348.2 L672.1,1346.1 L675.5,1343.7 L678.8,1341.3 L682.2,1339.2 L685.5,1337.3 L688.8,1335.8 L692.2,1334.9 L695.5,1334.6 L698.9,1334.9 L702.2,1335.8 L705.6,1337.3 L708.9,1339.2 L712.3,1341.3 L715.6,1343.7 L719.0,1346.1 L722.3,1348.2 L725.6,1350.1 L729.0,1351.6 L732.3,1352.5 L735.7,1352.8 L739.0,1352.5 L742.4,1351.6 L745.7,1350.1 L749.1,1348.2 L752.4,1346.1 L755.8,1343.7 L759.1,1341.3 L762.4,1339.2 L765.8,1337.3 L769.1,1335.8 L772.5,1334.9 L775.8,1334.6 L779.2,1334.9 L782.5,1335.8 L785.9,1337.3 L789.2,1339.2 L792.5,1341.3 L795.9,1343.7 L799.2,1346.1 L802.6,1348.2 L805.9,1350.1 L809.3,1351.6 L812.6,1352.5 L816.0,1352.8 L819.3,1352.5 L822.7,1351.6 L826.0,1350.1 L829.3,1348.3 L832.7,1346.1 L836.0,1343.7 L839.4,1341.3 L842.7,1339.2 L846.1,1337.3 L849.4,1335.8 L852.8,1334.9 L856.1,1334.6 L859.5,1334.9 L862.8,1335.8 L866.1,1337.3 L869.5,1339.2 L872.8,1341.3 L876.2,1343.7 L879.5,1346.1 L882.9,1348.2 L886.2,1350.1 L889.6,1351.6 L892.9,1352.5 L896.3,1352.8 L899.6,1352.5 L902.9,1351.6 L906.3,1350.1 L909.6,1348.2 L913.0,1346.1 L916.3,1343.7 L919.7,1341.3 L923.0,1339.1 L926.4,1337.3 L929.7,1335.8 L933.1,1334.9 L936.4,1334.6 L939.7,1334.9 L943.1,1335.8 L946.4,1337.3 L949.8,1339.2 L953.1,1341.3 L956.5,1343.7 L959.8,1346.1 L963.2,1348.3 L966.5,1350.1 L969.9,1351.6 L973.2,1352.5 L976.5,1352.8 L979.9,1352.5 L983.2,1351.6 L986.6,1350.1 L989.9,1348.2 L993.3,1346.1 L996.6,1343.7 L1000.0,1341.3 L1003.3,1339.2 L1006.7,1337.3 L1010.0,1335.8 L1013.3,1334.9 L1016.7,1334.6 L1020.0,1334.9 L1023.4,1335.8 L1026.7,1337.3 L1030.1,1339.2 L1033.4,1341.3 L1036.8,1343.7 L1040.1,1346.1 L1043.5,1348.2 L1046.8,1350.1 L1050.1,1351.6 L1053.5,1352.5 L1056.8,1352.8 L1060.2,1352.5 L1063.5,1351.6 L1066.9,1350.1 L1070.2,1348.2 L1073.6,1346.1 L1076.9,1343.7 L1080.3,1341.3 L1083.6,1339.2 L1086.9,1337.3 L1090.3,1335.8 L1093.6,1334.9 L1097.0,1334.6 L1100.3,1334.9 L1103.7,1335.8 L1107.0,1337.3 L1110.4,1339.2 L1113.7,1341.3 L1117.1,1343.7 L1120.4,1346.1 L1123.7,1348.2 L1127.1,1350.1 L1130.4,1351.6 L1133.8,1352.5 L1137.1,1352.8 L1140.5,1352.5 L1143.8,1351.6 L1147.2,1350.1 L1150.5,1348.2 L1153.9,1346.1 L1157.2,1343.7 L1160.5,1341.3 L1163.9,1339.2 L1167.2,1337.3 L1170.6,1335.8 L1173.9,1334.9 L1177.3,1334.6 L1180.6,1334.9 L1184.0,1335.8 L1187.3,1337.3 L1190.7,1339.2 L1194.0,1341.3 L1197.3,1343.7 L1200.7,1346.1 L1204.0,1348.2 L1207.4,1350.1 L1210.7,1351.6 L1214.1,1352.5 L1217.4,1352.8 L1220.8,1352.5 L1224.1,1351.6 L1227.5,1350.1 L1230.8,1348.2 L1234.1,1346.1 L1237.5,1343.7 L1240.8,1341.3 L1244.2,1339.2 L1247.5,1337.3 L1250.9,1335.8 L1254.2,1334.9 L1257.6,1334.6 L1260.9,1334.9 L1264.3,1335.8 L1267.6,1337.3 L1270.9,1339.1 L1274.3,1341.3 L1277.6,1343.7 L1281.0,1346.1 L1284.3,1348.2 L1287.7,1350.1 L1291.0,1351.6 L1294.4,1352.5 L1297.7,1352.8 L1301.1,1352.5 L1304.4,1351.6 L1307.7,1350.1 L1311.1,1348.2 L1314.4,1346.1 L1317.8,1343.7 L1321.1,1341.3 L1324.5,1339.1 L1327.8,1337.3 L1331.2,1335.8 L1334.5,1334.9 L1337.9,1334.6 L1341.2,1334.9 L1344.5,1335.8 L1347.9,1337.3 L1351.2,1339.2 L1354.6,1341.3 L1357.9,1343.7 L1361.3,1346.1 L1364.6,1348.3 L1368.0,1350.1 L1371.3,1351.6 L1374.7,1352.5 L1378.0,1352.8 L1381.3,1352.5 L1384.7,1351.6 L1388.0,1350.1 L1391.4,1348.3 L1394.7,1346.1 L1398.1,1343.7 L1401.4,1341.3 L1404.8,1339.2 L1408.1,1337.3 L1411.5,1335.8 L1414.8,1334.9 L1418.1,1334.6 L1421.5,1334.9 L1424.8,1335.8 L1428.2,1337.3 L1431.5,1339.2 L1434.9,1341.3 L1438.2,1343.7 L1441.6,1346.1 L1444.9,1348.3 L1448.3,1350.1 L1451.6,1351.6 L1454.9,1352.5 L1458.3,1352.8 L1461.6,1352.5 L1465.0,1351.6 L1468.3,1350.1 L1471.7,1348.2 L1475.0,1346.1 L1478.4,1343.7 L1481.7,1341.3 L1485.1,1339.2 L1488.4,1337.3 L1491.7,1335.8 L1495.1,1334.9 L1498.4,1334.6 L1501.8,1334.9 L1505.1,1335.8 L1508.5,1337.3 L1511.8,1339.2 L1515.2,1341.3 L1518.5,1343.7 L1521.9,1346.1 L1525.2,1348.2 L1528.5,1350.1 L1531.9,1351.6 L1535.2,1352.5 L1538.6,1352.8 L1541.9,1352.5 L1545.3,1351.6 L1548.6,1350.1 L1552.0,1348.2 L1555.3,1346.1 L1558.7,1343.7 L1562.0,1341.3 L1565.3,1339.2 L1568.7,1337.3 L1572.0,1335.8 L1575.4,1334.9 L1578.7,1334.6 L1582.1,1334.9 L1585.4,1335.8 L1588.8,1337.3 L1592.1,1339.1 L1595.4,1341.3 L1598.8,1343.7 L1602.1,1346.1 L1605.5,1348.2 L1608.8,1350.1 L1612.2,1351.6 L1615.5,1352.5 L1618.9,1352.8 L1622.2,1352.5 L1625.6,1351.6 L1628.9,1350.1 L1632.2,1348.2 L1635.6,1346.1 L1638.9,1343.7 L1642.3,1341.3 L1645.6,1339.2 L1649.0,1337.3 L1652.3,1335.8 L1655.7,1334.9 L1659.0,1334.6 L1662.4,1334.9 L1665.7,1335.8 L1669.0,1337.3 L1672.4,1339.2 L1675.7,1341.3 L1679.1,1343.7 L1682.4,1346.1 L1685.8,1348.2 L1689.1,1350.1 L1692.5,1351.6 L1695.8,1352.5 L1699.2,1352.8 L1702.5,1352.5 L1705.8,1351.6 L1709.2,1350.1 L1712.5,1348.3 L1715.9,1346.1 L1719.2,1343.7 L1722.6,1341.3 L1725.9,1339.2 L1729.3,1337.3 L1732.6,1335.8 L1736.0,1334.9 L1739.3,1334.6 L1742.6,1334.9 L1746.0,1335.8 L1749.3,1337.3 L1752.7,1339.2 L1756.0,1341.3 L1759.4,1343.7 L1762.7,1346.1 L1766.1,1348.2 L1769.4,1350.1 L1772.8,1351.6 L1776.1,1352.5 L1779.4,1352.8 L1782.8,1352.5 L1786.1,1351.6 L1789.5,1350.1 L1792.8,1348.2 L1796.2,1346.1 L1799.5,1343.7" fill="none" stroke="#111" stroke-width="2.4" stroke-linejoin="round"/>
</svg>
<!--CHART-END-->

<div class="t sans" id="pn" style="left:2126.5px;top:1440.5px;font-size:31px;color:#8a8a8a;font-weight:400;transform:scaleX(.9);transform-origin:0 0;">9</div>
</body>
</html>
